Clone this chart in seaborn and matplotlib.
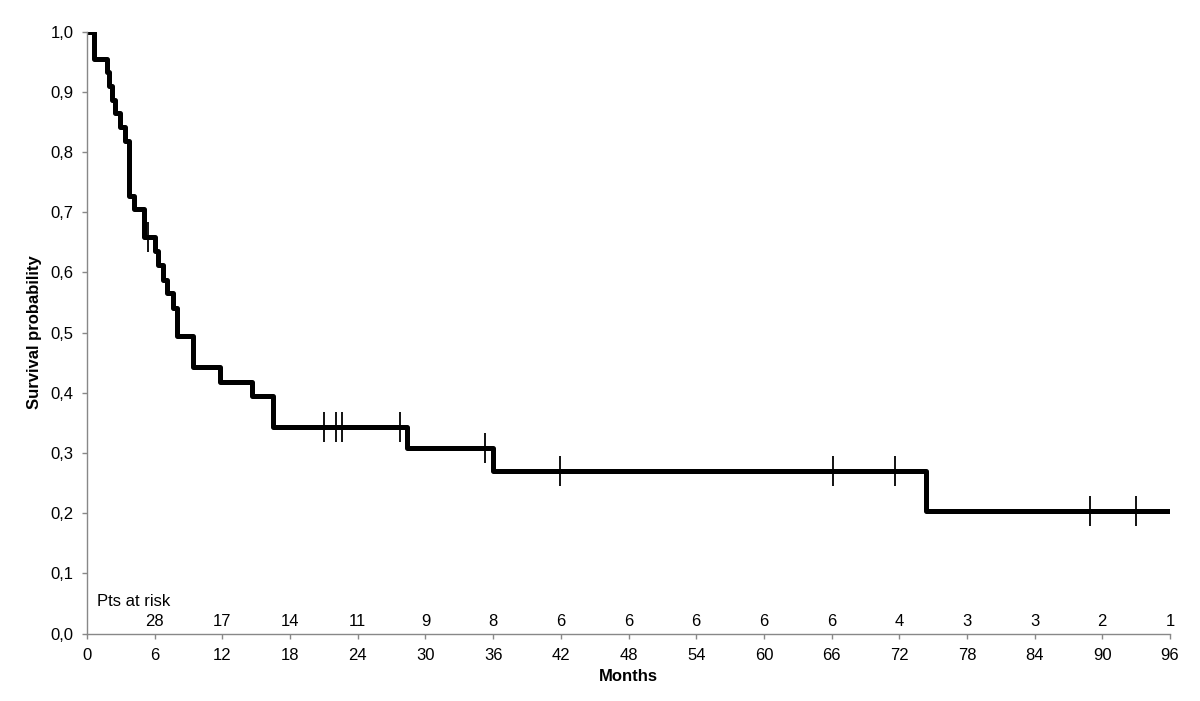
import numpy as np
import pandas as pd
import seaborn as sns
import matplotlib.pyplot as plt

# Kaplan-Meier steps (months, survival after the step)
step_months = [0, 0.65, 1.74, 1.95, 2.2, 2.5, 2.9, 3.4, 3.68, 4.2, 5.05,
               6.03, 6.32, 6.77, 7.12, 7.65, 7.95, 9.4, 11.8, 14.65, 16.45,
               28.4, 36.0, 74.4, 96]
step_surv = [1.0, 0.955, 0.932, 0.909, 0.886, 0.864, 0.841, 0.818, 0.727, 0.705, 0.659,
             0.635, 0.612, 0.588, 0.565, 0.541, 0.494, 0.443, 0.418, 0.394, 0.344,
             0.309, 0.271, 0.203, 0.203]

# censored patients
censor_months = [5.4, 21.0, 22.07, 22.63, 27.77, 35.3, 41.97, 66.1, 71.65, 88.9, 93.0]
censor_surv = [0.659, 0.344, 0.344, 0.344, 0.344, 0.309, 0.271, 0.271, 0.271, 0.203, 0.203]

# patients at risk
risk_months = [6, 12, 18, 24, 30, 36, 42, 48, 54, 60, 66, 72, 78, 84, 90, 96]
risk_counts = [28, 17, 14, 11, 9, 8, 6, 6, 6, 6, 6, 4, 3, 3, 2, 1]

x_ticks = list(range(0, 97, 6))
y_ticks = [i / 10 for i in range(11)]

sns.set_theme(style='white')
plt.rcParams['font.family'] = ['Liberation Sans', 'DejaVu Sans']
plt.rcParams['text.color'] = 'black'
plt.rcParams['axes.labelcolor'] = 'black'
plt.rcParams['xtick.labelcolor'] = 'black'
plt.rcParams['ytick.labelcolor'] = 'black'

curve = pd.DataFrame({'Months': step_months, 'Survival': step_surv})
cens = pd.DataFrame({'Months': censor_months, 'Survival': censor_surv})

fig, ax = plt.subplots(figsize=(12, 7.01), dpi=100)
fig.subplots_adjust(left=0.0725, right=0.975, bottom=0.096, top=0.955)

sns.lineplot(data=curve, x='Months', y='Survival', drawstyle='steps-post',
             color='black', linewidth=3.6, estimator=None, sort=False, ax=ax)
sns.scatterplot(data=cens, x='Months', y='Survival', marker='|', s=480,
                linewidth=1.3, color='black', ax=ax, zorder=3)

# numbers at risk above the x axis
ax.text(0.86, 0.053, 'Pts at risk', fontsize=12, ha='left', va='center')
for m, n in zip(risk_months, risk_counts):
    ax.text(m, 0.021, str(n), fontsize=12, ha='center', va='center')

ax.set_xlim(0, 96)
ax.set_ylim(0, 1.0)
ax.set_xticks(x_ticks)
ax.set_yticks(y_ticks)
ax.set_yticklabels([f'{v:.1f}'.replace('.', ',') for v in y_ticks])
ax.tick_params(axis='both', labelsize=12, length=3.6, width=1, color='#888888',
               direction='out', left=True, bottom=True)
ax.tick_params(axis='x', pad=7)
ax.tick_params(axis='y', pad=6)

for side in ['top', 'right']:
    ax.spines[side].set_visible(False)
for side in ['left', 'bottom']:
    ax.spines[side].set_color('#888888')
    ax.spines[side].set_linewidth(1)

ax.set_xlabel('Months', fontsize=12, fontweight='bold', labelpad=4)
ax.set_ylabel('Survival probability', fontsize=12, fontweight='bold', labelpad=6)

fig.savefig('out.png', dpi=100)
